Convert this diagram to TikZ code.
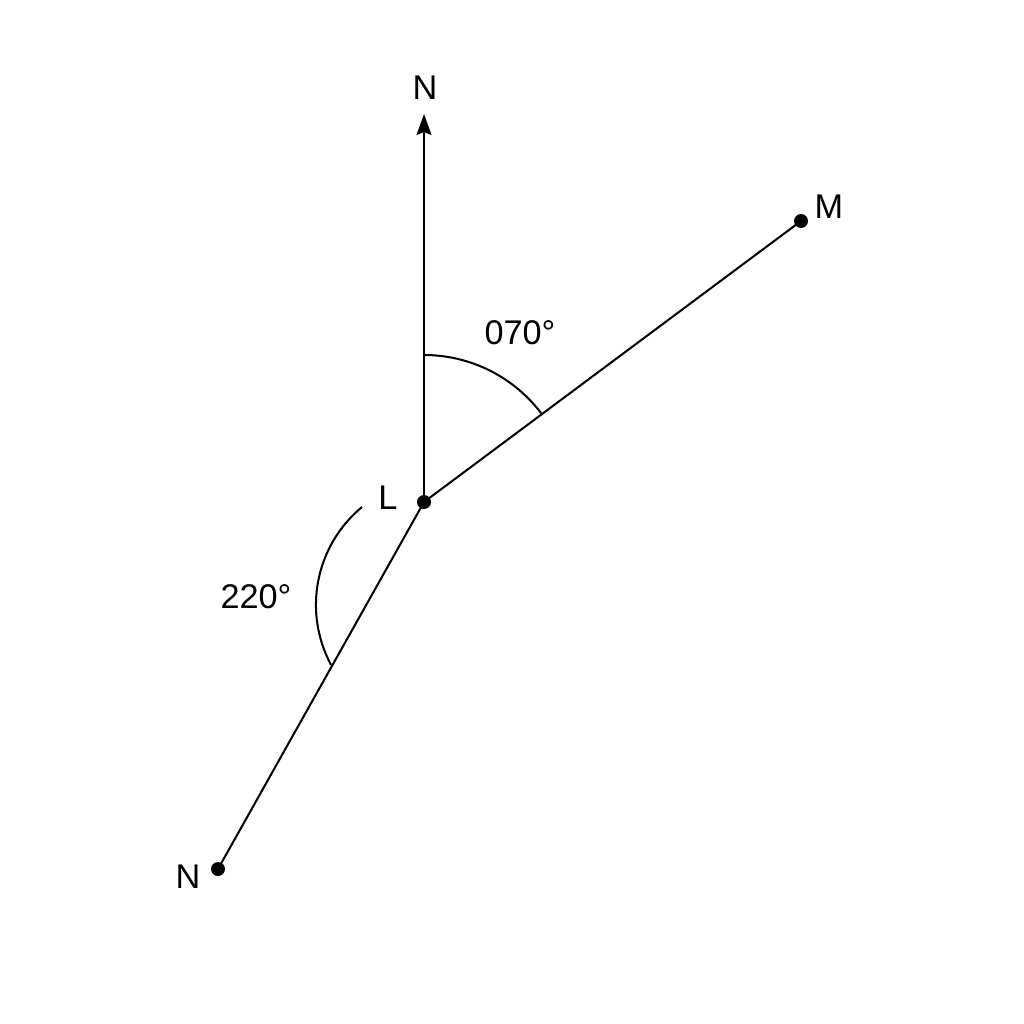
\documentclass[tikz,border=0pt]{standalone}
\usepackage{fontspec}
\setmainfont{Liberation Sans}
\usetikzlibrary{arrows.meta}
\begin{document}
\begin{tikzpicture}[x=0.02cm,y=0.02cm,
  ln/.style={line width=1.15pt,black},
  pt/.style={circle,fill=black,inner sep=0pt,minimum size=0.28cm},
  lbl/.style={font=\fontsize{19.5}{22}\selectfont,inner sep=0pt}]
\useasboundingbox[fill=white] (0,0) rectangle (1024,-1024);
\node[pt] (L) at (424,-502) {};
\node[pt] (M) at (801,-221) {};
\node[pt] (NB) at (218,-869) {};
\coordinate (NT) at (424,-114);
\node[lbl] (nN) at (425,-88) {N};
\node[lbl] (nM) at (829,-207) {M};
\node[lbl] (nL) at (388,-498) {L};
\node[lbl] (nNB) at (188,-877) {N};
\node[lbl] (a1) at (520,-333) {070°};
\node[lbl] (a2) at (256,-597) {220°};
\draw[ln,-{Stealth[length=0.42cm,width=0.3cm,inset=0.06cm]}] (L.center) -- (NT);
\draw[ln] (L.center) -- (M.center);
\draw[ln] (L.center) -- (NB.center);
\draw[ln] (424,-355) arc[start angle=90,end angle=36.7,radius=147];
\draw[ln] (362,-507) arc[start angle=129.6,end angle=208.2,radius=127];
\end{tikzpicture}
\end{document}
